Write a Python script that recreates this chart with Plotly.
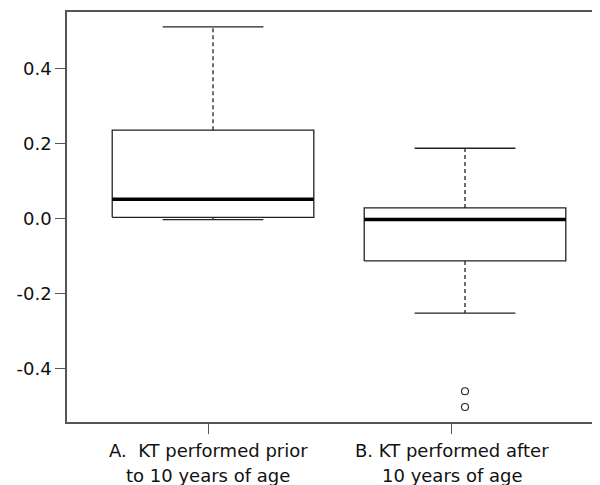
import plotly.graph_objects as go

categories_line1 = ["A.  KT performed prior", "B. KT performed after"]
categories_line2 = ["to 10 years of age", "10 years of age"]
lower_whisker = [-0.003, -0.252]
q1 = [0.003, -0.113]
median = [0.051, -0.003]
q3 = [0.235, 0.028]
upper_whisker = [0.510, 0.187]
outliers = [[], [-0.460, -0.502]]

positions = [1, 2]
tick_positions = [0.981, 1.947]
BOX_HALF = 0.4
CAP_HALF = 0.2
LINE = "#222222"
FRAME = "#555555"
FONT = "DejaVu Sans"

fig = go.Figure()
for i, x in enumerate(positions):
    fig.add_trace(go.Scatter(
        x=[x - BOX_HALF, x + BOX_HALF, x + BOX_HALF, x - BOX_HALF, x - BOX_HALF],
        y=[q1[i], q1[i], q3[i], q3[i], q1[i]],
        mode="lines", line=dict(color=LINE, width=1.3), showlegend=False, hoverinfo="skip"))
    fig.add_trace(go.Scatter(
        x=[x - BOX_HALF, x + BOX_HALF], y=[median[i], median[i]],
        mode="lines", line=dict(color="#000000", width=3.5), showlegend=False, hoverinfo="skip"))
    fig.add_trace(go.Scatter(
        x=[x, x, None, x, x], y=[q3[i], upper_whisker[i], None, q1[i], lower_whisker[i]],
        mode="lines", line=dict(color=LINE, width=1.3, dash="4px,3px"), showlegend=False, hoverinfo="skip"))
    fig.add_trace(go.Scatter(
        x=[x - CAP_HALF, x + CAP_HALF, None, x - CAP_HALF, x + CAP_HALF],
        y=[upper_whisker[i], upper_whisker[i], None, lower_whisker[i], lower_whisker[i]],
        mode="lines", line=dict(color=LINE, width=1.3), showlegend=False, hoverinfo="skip"))
    if outliers[i]:
        fig.add_trace(go.Scatter(
            x=[x] * len(outliers[i]), y=outliers[i], mode="markers",
            marker=dict(symbol="circle-open", size=7, color=LINE, line=dict(width=1.1)),
            showlegend=False, hoverinfo="skip"))

annotations = []
for i, tx in enumerate(tick_positions):
    annotations.append(dict(x=tx, xref="x", y=0, yref="paper", text=categories_line1[i],
                            showarrow=False, xanchor="center", yanchor="middle", yshift=-28,
                            font=dict(family=FONT, size=18, color="#111111")))
    annotations.append(dict(x=tx, xref="x", y=0, yref="paper", text=categories_line2[i],
                            showarrow=False, xanchor="center", yanchor="middle", yshift=-53,
                            font=dict(family=FONT, size=18, color="#111111")))

fig.update_layout(
    width=600, height=485,
    margin=dict(l=59, r=8, t=4, b=71),
    paper_bgcolor="white", plot_bgcolor="white",
    font=dict(family=FONT, size=18, color="#111111"),
    annotations=annotations,
    xaxis=dict(range=[0.4206, 2.5357], tickmode="array", tickvals=tick_positions,
               showticklabels=False, automargin=False,
               showline=True, linecolor=FRAME, linewidth=1.5,
               mirror=True, ticks="outside", ticklen=10, tickcolor=FRAME,
               showgrid=False, zeroline=False),
    yaxis=dict(range=[-0.542, 0.5498], tickmode="array",
               tickvals=[-0.4, -0.2, 0.0, 0.2, 0.4],
               ticktext=["-0.4", "-0.2", "0.0", "0.2", "0.4"], automargin=False,
               showline=True, linecolor=FRAME, linewidth=1.5, mirror=False,
               ticks="outside", ticklen=10, tickcolor=FRAME,
               showgrid=False, zeroline=False),
)

fig.write_html("out.html")
